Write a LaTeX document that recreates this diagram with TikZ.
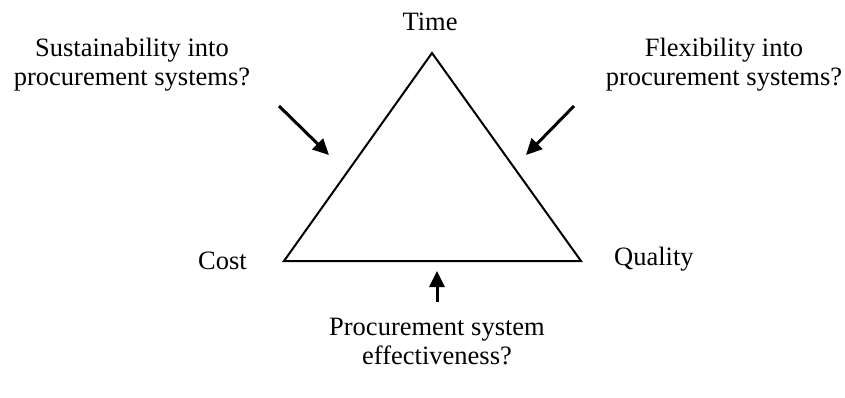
\documentclass[tikz,border=0pt]{standalone}
\usepackage{fontspec}
\setmainfont{Liberation Serif}
\usetikzlibrary{arrows.meta}
\begin{document}
\begin{tikzpicture}[x=1pt,y=1pt,
  label/.style={inner sep=0pt,font=\fontsize{26.5}{29}\selectfont,align=center},
  edge/.style={line width=2pt,line join=miter},
  push/.style={line width=3pt,-{Triangle[length=16pt,width=15pt]}}]
\useasboundingbox (0,0) rectangle (845,397);
% triangle corners
\coordinate (T) at (432,344);
\coordinate (C) at (284,136);
\coordinate (Q) at (581,136);
\draw[edge] (T) -- (C) -- (Q) -- cycle;
% corner labels
\node[label,anchor=base] (time) at (430,366) {Time};
\node[label,anchor=base east] (cost) at (247,128) {Cost};
\node[label,anchor=base west] (quality) at (614,132) {Quality};
% influences
\node[label,anchor=base] (sus) at (132,311) {Sustainability into\\procurement systems?};
\node[label,anchor=base] (flex) at (724,311) {Flexibility into\\procurement systems?};
\node[label,anchor=base] (eff) at (437,33) {Procurement system\\effectiveness?};
% arrow ends
\coordinate (s0) at (279,291);
\coordinate (s1) at (329,242);
\coordinate (f0) at (574,291);
\coordinate (f1) at (526,242);
\coordinate (e0) at (437,95);
\coordinate (e1) at (437,126);
\draw[push] (s0) -- (s1);
\draw[push] (f0) -- (f1);
\draw[push] (e0) -- (e1);
\end{tikzpicture}
\end{document}
